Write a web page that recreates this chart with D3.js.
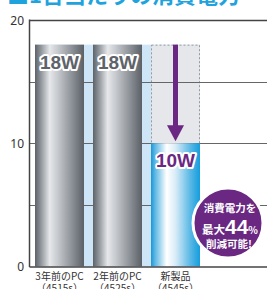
<!DOCTYPE html>
<html><head><meta charset="utf-8">
<script src="https://cdn.jsdelivr.net/npm/d3@7"></script>
<style>body{margin:0;background:#fff;}svg{display:block;}</style>
</head><body>
<script>
const categories = ["3年前のPC", "2年前のPC", "新製品"];
const models = ["（4515s）", "（4525s）", "（4545s）"];
const values = [18, 18, 10];
const valueLabels = ["18W", "18W", "10W"];
const yTicks = [0, 10, 20];
const gridValues = [5, 10, 15, 20];
const previousValue = 18;
const title = "■1台当たりの消費電力";
const badge = ["消費電力を", "最大", "44", "%", "削減可能!"];

const W = 267, H = 289;
const svg = d3.select("body").append("svg").attr("width", W).attr("height", H);
const defs = svg.append("defs");
const gg = defs.append("linearGradient").attr("id","gray").attr("x1","0").attr("x2","1");
[[0,"#5d6268"],[0.12,"#8f959b"],[0.3,"#e6e8ea"],[0.45,"#c9ccd0"],[0.75,"#8d9298"],[1,"#5b6066"]].forEach(s=>gg.append("stop").attr("offset",s[0]).attr("stop-color",s[1]));
const bg = defs.append("linearGradient").attr("id","blue").attr("x1","0").attr("x2","1");
[[0,"#1a98d5"],[0.08,"#5ab6e4"],[0.32,"#ffffff"],[0.5,"#d8ecf8"],[0.8,"#5ab8e6"],[1,"#149ddd"]].forEach(s=>bg.append("stop").attr("offset",s[0]).attr("stop-color",s[1]));

const y = d3.scaleLinear().domain([0,20]).range([266.5,20]);
const x = d3.scaleBand().domain(categories).range([35,200]).paddingInner(9/58).paddingOuter(0);
const axisX = 29.5;

// title (cut off at top)
svg.append("text").attr("x",7).attr("y",3).attr("font-family","Noto Sans CJK JP").attr("font-weight","bold")
  .attr("font-size",22).attr("fill","#1fa3dd").text(title);

// light blue background behind bars
svg.append("rect").attr("x",x.range()[0]).attr("y",y(previousValue)).attr("width",x.range()[1]-x.range()[0])
  .attr("height",y(0)-y(previousValue)).attr("fill","#cde5f6");

// dashed "previous" rect for new product
const nb = categories[2];
svg.append("rect").attr("x",x(nb)+0.5).attr("y",y(previousValue)+0.5).attr("width",x.bandwidth()-1)
  .attr("height",y(values[2])-y(previousValue)).attr("fill","#e6e7eb").attr("stroke","#9a9a9a")
  .attr("stroke-dasharray","2,2").attr("stroke-width",1);

// gridlines
svg.selectAll(".grid").data(gridValues).enter().append("line")
  .attr("x1",axisX).attr("x2",W).attr("y1",d=>Math.round(y(d))+0.5).attr("y2",d=>Math.round(y(d))+0.5)
  .attr("stroke",d=>d===20?"#444":"#666").attr("stroke-width",d=>d===20?1.5:1.2);

// bars
svg.selectAll(".bar").data(values).enter().append("rect")
  .attr("x",(d,i)=>x(categories[i])).attr("y",d=>y(d)).attr("width",x.bandwidth())
  .attr("height",d=>y(0)-y(d)).attr("fill",(d,i)=>i<2?"url(#gray)":"url(#blue)");

// arrow
const ax = x(nb)+x.bandwidth()/2;
svg.append("line").attr("x1",ax).attr("x2",ax).attr("y1",y(previousValue)).attr("y2",y(values[2])-16)
  .attr("stroke","#6a2882").attr("stroke-width",5);
svg.append("path").attr("d",`M${ax-8.5},${y(values[2])-18}L${ax+8.5},${y(values[2])-18}L${ax},${y(values[2])-2}Z`).attr("fill","#6a2882");

// value labels
svg.selectAll(".vl").data(values).enter().append("text")
  .attr("x",(d,i)=>x(categories[i])+x.bandwidth()/2).attr("y",d=>y(d)+24)
  .attr("text-anchor","middle").attr("font-family","Liberation Sans").attr("font-weight","bold")
  .attr("font-size",19).attr("stroke","#fff").attr("stroke-width",4).attr("stroke-linejoin","round")
  .attr("paint-order","stroke").attr("fill",(d,i)=>i<2?"#5e636a":"#6a2882").text((d,i)=>valueLabels[i]);

// axes
svg.append("line").attr("x1",axisX).attr("x2",axisX).attr("y1",19.5).attr("y2",267).attr("stroke","#444").attr("stroke-width",1.5);
svg.append("line").attr("x1",axisX).attr("x2",W).attr("y1",267).attr("y2",267).attr("stroke","#444").attr("stroke-width",1.5);
svg.selectAll(".yt").data(yTicks).enter().append("text")
  .attr("x",24).attr("y",d=>y(d)+4.5).attr("text-anchor","end").attr("font-family","Noto Sans")
  .attr("font-size",12).attr("fill","#333").text(d=>d);

// x labels
const xl = svg.selectAll(".xl").data(categories).enter().append("text")
  .attr("text-anchor","middle").attr("font-family","Noto Sans CJK JP").attr("font-size",10).attr("fill","#333");
xl.append("tspan").attr("x",d=>x(d)+x.bandwidth()/2).attr("y",280).text(d=>d);
xl.append("tspan").attr("x",d=>x(d)+x.bandwidth()/2).attr("y",292).text((d,i)=>models[i]);

// badge
const cx = 228, cy = 223;
svg.append("circle").attr("cx",cx).attr("cy",cy).attr("r",35).attr("fill","#6a2882").attr("stroke","#fff").attr("stroke-width",3);
const bt = {"font-family":"Noto Sans CJK JP","font-weight":"bold","fill":"#fff","text-anchor":"middle"};
function t(xx,yy,s,txt){const e=svg.append("text").attr("x",xx).attr("y",yy).attr("font-size",s);Object.entries(bt).forEach(([k,v])=>e.attr(k,v));e.text(txt);return e;}
t(cx+2,212,10.5,badge[0]);
const mid = svg.append("text").attr("x",cx+2).attr("y",234);Object.entries(bt).forEach(([k,v])=>mid.attr(k,v));
mid.append("tspan").attr("font-size",11.5).text(badge[1]);
mid.append("tspan").attr("font-size",21).attr("font-family","Liberation Sans").text(badge[2]);
mid.append("tspan").attr("font-size",10).text(badge[3]);
t(cx+1,248,10.5,badge[4]);
</script>
</body></html>
